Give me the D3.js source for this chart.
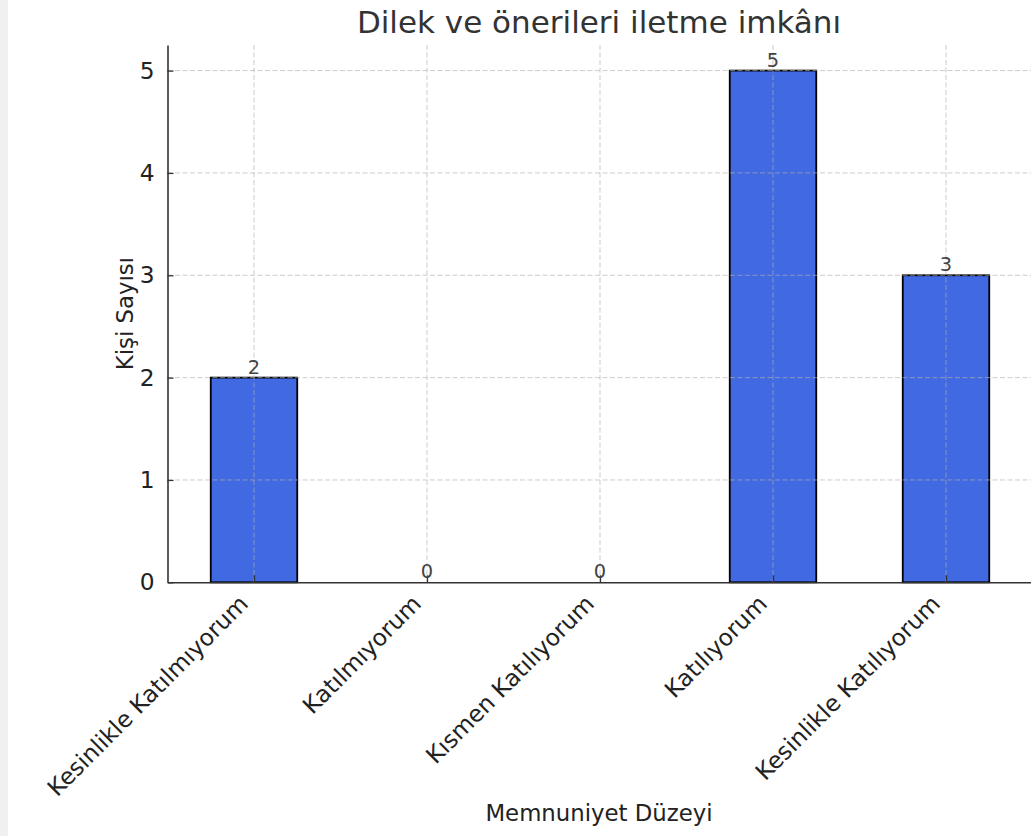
<!DOCTYPE html>
<html>
<head>
<meta charset="utf-8">
<script src="https://cdn.jsdelivr.net/npm/d3@7"></script>
<style>
  html, body { margin: 0; padding: 0; background: #ffffff; }
  svg { display: block; }
</style>
</head>
<body>
<svg id="chart" width="1031" height="836"></svg>
<script>
const categories = ["Kesinlikle Katılmıyorum", "Katılmıyorum", "Kısmen Katılıyorum", "Katılıyorum", "Kesinlikle Katılıyorum"];
const values = [2, 0, 0, 5, 3];
const yTicks = [0, 1, 2, 3, 4, 5];
const titleText = "Dilek ve önerileri iletme imkânı";
const xLabelText = "Memnuniyet Düzeyi";
const yLabelText = "Kişi Sayısı";

const W = 1031, H = 836;
const plot = { left: 167.5, right: 1032.5, top: 45, bottom: 582.3 };
const font = "'DejaVu Sans', sans-serif";

const svg = d3.select("#chart");

// left gray strip
svg.append("rect").attr("x", 0).attr("y", 0).attr("width", 8).attr("height", H).attr("fill", "#f0f0f0");

const x = d3.scaleLinear().domain([-0.5, categories.length - 0.5]).range([plot.left, plot.right]);
const y = d3.scaleLinear().domain([0, 5.25]).range([plot.bottom, plot.top]);
const barW = x(0.5) - x(0);

// bars
svg.append("g").selectAll("rect").data(values).join("rect")
  .attr("x", (d, i) => x(i) - barW / 2)
  .attr("y", d => y(d))
  .attr("width", barW)
  .attr("height", d => y(0) - y(d))
  .attr("fill", "#4169E1")
  .attr("stroke", "#000")
  .attr("stroke-width", d => d > 0 ? 1.8 : 0);

// grid on top
const grid = svg.append("g").attr("stroke", "#b0b0b0").attr("stroke-opacity", 0.65)
  .attr("stroke-width", 1).attr("stroke-dasharray", "5,2.5").attr("fill", "none");
grid.selectAll("line.h").data(yTicks.filter(t => t > 0)).join("line").attr("class", "h")
  .attr("x1", plot.left).attr("x2", plot.right)
  .attr("y1", d => y(d)).attr("y2", d => y(d));
grid.selectAll("line.v").data(categories.map((c, i) => i)).join("line").attr("class", "v")
  .attr("x1", d => x(d)).attr("x2", d => x(d))
  .attr("y1", plot.top).attr("y2", plot.bottom);

// y axis
const yAxis = d3.axisLeft(y).tickValues(yTicks).tickFormat(d3.format("d")).tickSizeInner(-6).tickSizeOuter(0).tickPadding(13);
const gy = svg.append("g").attr("transform", `translate(${plot.left},0)`).call(yAxis);
gy.select(".domain").attr("stroke", "#333").attr("stroke-width", 1.6);
gy.selectAll(".tick line").attr("stroke", "#333").attr("stroke-width", 1.3);
gy.selectAll(".tick text").attr("font-family", font).attr("font-size", 23.3).attr("fill", "#222");

// x axis
const xAxis = d3.axisBottom(x).tickValues(categories.map((c, i) => i)).tickFormat(i => categories[i]).tickSizeInner(-7).tickSizeOuter(0);
const gx = svg.append("g").attr("transform", `translate(0,${plot.bottom})`).call(xAxis);
gx.select(".domain").attr("stroke", "#333").attr("stroke-width", 1.6);
gx.selectAll(".tick line").attr("stroke", "#333").attr("stroke-width", 1.3);
gx.selectAll(".tick text")
  .attr("font-family", font).attr("font-size", 23.3).attr("fill", "#222")
  .attr("text-anchor", "end").attr("dy", null).attr("y", null)
  .attr("transform", "translate(-5,23) rotate(-45)");

// bar value labels
svg.append("g").selectAll("text").data(values).join("text")
  .attr("x", (d, i) => x(i))
  .attr("y", d => y(d) - 4)
  .attr("text-anchor", "middle")
  .attr("font-family", font).attr("font-size", 19.4).attr("fill", "#444")
  .text(d => d);

// title
svg.append("text").attr("x", 599).attr("y", 33).attr("text-anchor", "middle")
  .attr("font-family", font).attr("font-size", 31).attr("fill", "#333").text(titleText);

// axis labels
svg.append("text").attr("x", 599).attr("y", 821).attr("text-anchor", "middle")
  .attr("font-family", font).attr("font-size", 22.8).attr("fill", "#222").text(xLabelText);
svg.append("text").attr("transform", `translate(133,${(plot.top + plot.bottom) / 2}) rotate(-90)`)
  .attr("text-anchor", "middle")
  .attr("font-family", font).attr("font-size", 22.8).attr("fill", "#222").text(yLabelText);
</script>
</body>
</html>
